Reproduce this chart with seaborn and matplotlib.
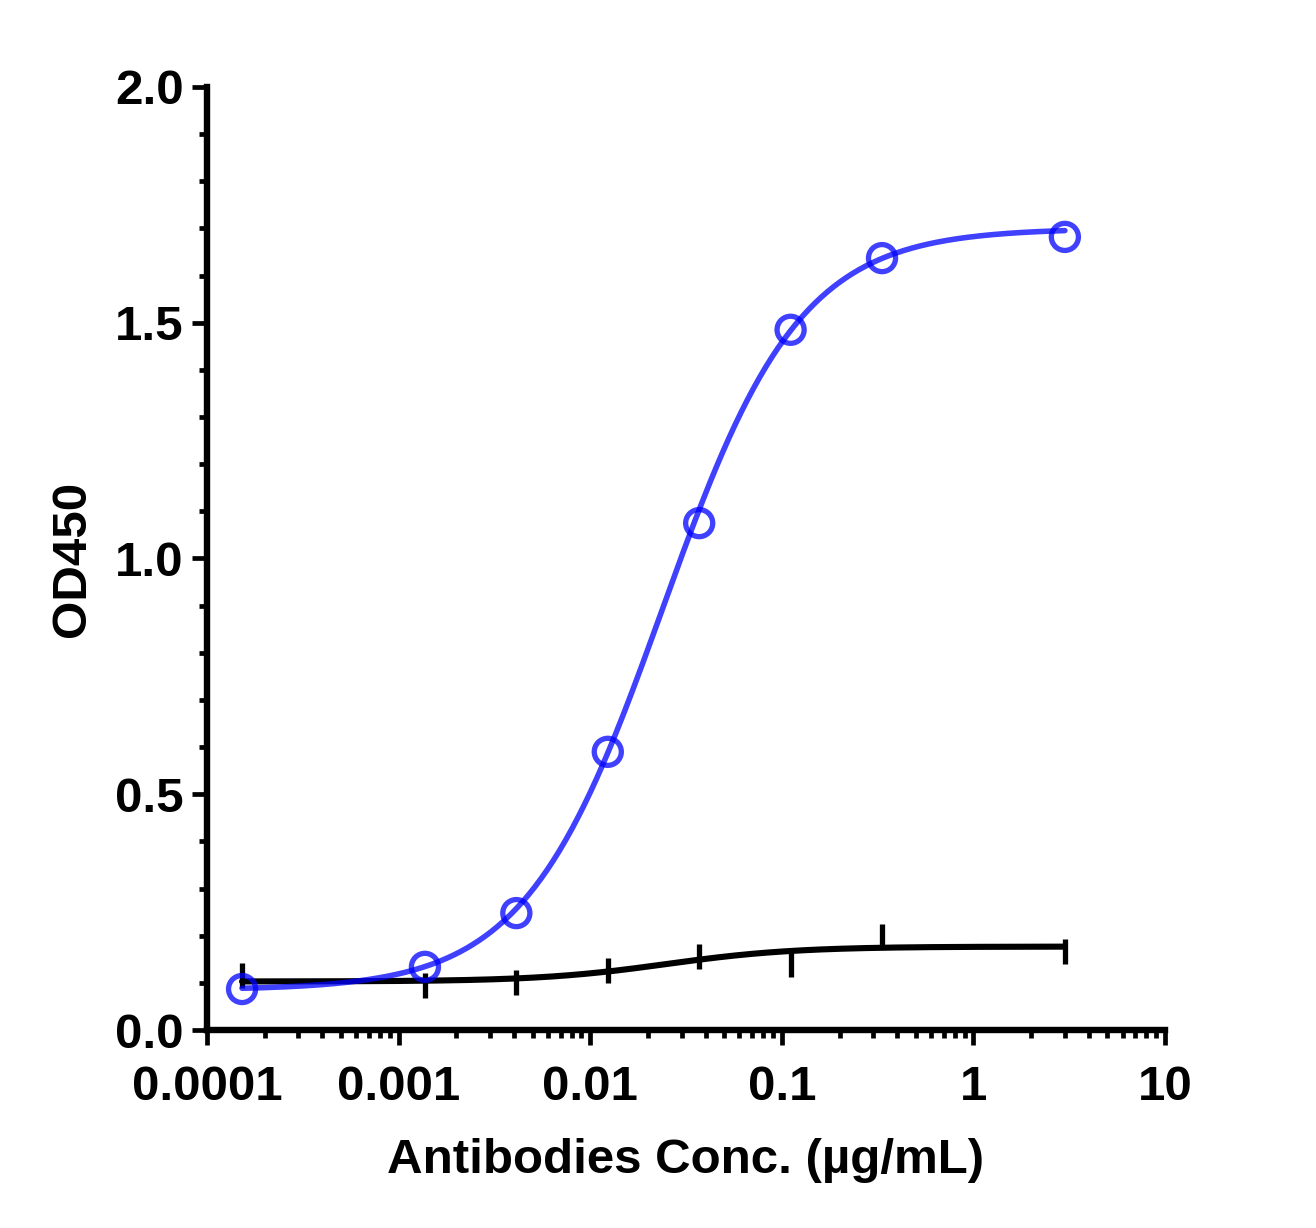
import numpy as np
import pandas as pd
import seaborn as sns
import matplotlib.pyplot as plt
from matplotlib.ticker import FixedLocator, LogLocator, MultipleLocator, NullFormatter

# 3-fold dilution series (ug/mL)
conc = [3.0, 0.3333, 0.1111, 0.03704, 0.01235, 0.004115, 0.001372, 0.0001524]
od_antibody = [1.682, 1.637, 1.485, 1.075, 0.590, 0.248, 0.134, 0.087]
od_control = [0.168, 0.200, 0.141, 0.158, 0.128, 0.101, 0.095, 0.117]

# 4PL fit parameters: bottom, top, EC50, hill
fit_antibody = [0.085, 1.70, 0.0238, 1.21]
fit_control = [0.103, 0.177, 0.025, 1.3]

xticks = [0.0001, 0.001, 0.01, 0.1, 1, 10]
xticklabels = ['0.0001', '0.001', '0.01', '0.1', '1', '10']


def four_pl(x, p):
    bottom, top, ec50, hill = p
    return bottom + (top - bottom) / (1 + (ec50 / x) ** hill)


sns.set_style('ticks', {'axes.edgecolor': 'black', 'text.color': 'black',
                        'xtick.color': 'black', 'ytick.color': 'black',
                        'axes.labelcolor': 'black'})
plt.rcParams['font.family'] = ['Liberation Sans', 'DejaVu Sans']
plt.rcParams['font.weight'] = 'bold'

df = pd.DataFrame({'conc': conc, 'antibody': od_antibody, 'control': od_control})
xs = np.logspace(np.log10(min(conc)), np.log10(max(conc)), 400)
curves = pd.DataFrame({'x': xs,
                       'antibody': four_pl(xs, fit_antibody),
                       'control': four_pl(xs, fit_control)})

fig = plt.figure(figsize=(13.16, 12.28), dpi=100)
ax = fig.add_axes([0.1573, 0.1612, 0.728, 0.768])

blue = (0.0, 0.0, 1.0)
fs = 35.5

# control (black): fitted curve plus bar markers
sns.lineplot(data=curves, x='x', y='control', ax=ax, color='black', lw=4.4, zorder=3)
sns.scatterplot(data=df, x='conc', y='control', ax=ax, marker='|', s=18 ** 2,
                color='black', linewidth=3.8, zorder=3)

# antibody (blue): fitted curve plus open circles
sns.lineplot(data=curves, x='x', y='antibody', ax=ax, color=blue, alpha=0.75, lw=4.0, zorder=4)
sns.scatterplot(data=df, x='conc', y='antibody', ax=ax, marker='o', s=19.5 ** 2,
                facecolor='none', edgecolor=blue, alpha=0.75, linewidth=3.8, zorder=5)

ax.set_xscale('log')
ax.set_xlim(1e-4, 10)
ax.set_ylim(0, 2.0)

ax.xaxis.set_major_locator(FixedLocator(xticks))
ax.set_xticklabels(xticklabels)
ax.xaxis.set_minor_locator(LogLocator(base=10, subs=np.arange(2, 10)))
ax.xaxis.set_minor_formatter(NullFormatter())
ax.yaxis.set_minor_locator(MultipleLocator(0.1))
ax.set_yticks([0, 0.5, 1.0, 1.5, 2.0])
ax.set_yticklabels(['0.0', '0.5', '1.0', '1.5', '2.0'])

sns.despine(ax=ax)
for side in ['left', 'bottom']:
    ax.spines[side].set_linewidth(4.6)
    ax.spines[side].set_color('black')

ax.tick_params(axis='both', which='major', direction='out', length=11, width=3.4,
               labelsize=fs, colors='black')
ax.tick_params(axis='both', which='minor', direction='out', length=5.5, width=3.4,
               colors='black')
ax.tick_params(axis='x', which='major', pad=14)
ax.tick_params(axis='y', which='major', pad=6)

ax.set_xlabel('Antibodies Conc. (µg/mL)', fontsize=fs, fontweight='bold', labelpad=20)
ax.set_ylabel('OD450', fontsize=fs, fontweight='bold', labelpad=14)

fig.savefig('out.png', dpi=100)
